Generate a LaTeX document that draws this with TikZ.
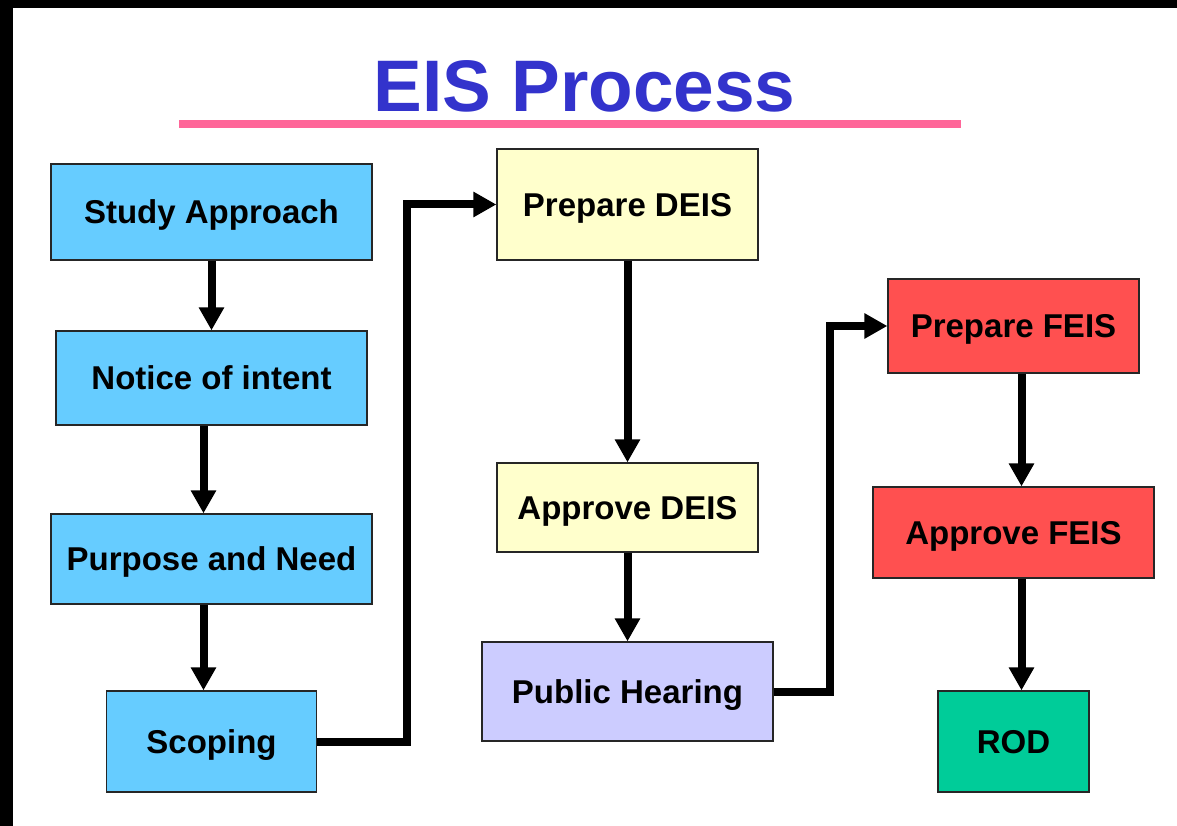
\documentclass[tikz,border=0pt]{standalone}
\usepackage{fontspec}
\setmainfont{Liberation Sans}
\usetikzlibrary{arrows.meta,positioning}

\definecolor{stageblue}{RGB}{102,204,255}
\definecolor{stageyellow}{RGB}{255,255,204}
\definecolor{stagelilac}{RGB}{204,204,255}
\definecolor{stagered}{RGB}{255,80,80}
\definecolor{stagegreen}{RGB}{0,204,153}
\definecolor{titleblue}{RGB}{51,51,204}
\definecolor{titlepink}{RGB}{255,102,153}

\tikzset{
  stage/.style={draw=black!85,line width=1.2pt,inner sep=0pt,text depth=0pt,
    font=\fontsize{33}{36}\selectfont\bfseries},
  flow/.style={line width=8pt,-{Triangle[length=23pt,width=24pt]}},
}

\begin{document}
\begin{tikzpicture}[x=1pt,y=-1pt]
\useasboundingbox (0,0) rectangle (1177,826);
\fill[black] (0,0) rectangle (1177,8);
\fill[black] (0,0) rectangle (13,826);

% title
\node[anchor=base,text=titleblue,font=\fontsize{73}{80}\selectfont\bfseries] (title) at (584.5,112) {EIS Process};
\fill[titlepink] (179,120) rectangle (961,128);

% first column
\node[stage,fill=stageblue,minimum width=321pt,minimum height=96pt] (study) at (211.5,212) {Study Approach};
\node[stage,fill=stageblue,minimum width=311pt,minimum height=94pt] (notice) at (211.5,378) {Notice of intent};
\node[stage,fill=stageblue,minimum width=321pt,minimum height=90pt] (purpose) at (211.5,559) {Purpose and Need};
\node[stage,fill=stageblue,minimum width=210pt,minimum height=101pt] (scoping) at (211.5,741.5) {Scoping};

% second column
\node[stage,fill=stageyellow,minimum width=261pt,minimum height=111pt] (pdeis) at (627.5,204.5) {Prepare DEIS};
\node[stage,fill=stageyellow,minimum width=261pt,minimum height=89pt] (adeis) at (627.5,507.5) {Approve DEIS};
\node[stage,fill=stagelilac,minimum width=291pt,minimum height=99pt] (hearing) at (627.5,691.5) {Public Hearing};

% third column
\node[stage,fill=stagered,minimum width=251pt,minimum height=94pt] (pfeis) at (1013.5,326) {Prepare FEIS};
\node[stage,fill=stagered,minimum width=281pt,minimum height=91pt] (afeis) at (1013.5,532.5) {Approve FEIS};
\node[stage,fill=stagegreen,minimum width=151pt,minimum height=101pt] (rod) at (1013.5,741.5) {ROD};

\coordinate (jogA) at (407,0);
\coordinate (jogB) at (830,0);

\draw[flow] (study.south) -- (notice.north);
\draw[flow] ([xshift=-8pt]notice.south) -- ([xshift=-8pt]purpose.north);
\draw[flow] ([xshift=-8pt]purpose.south) -- ([xshift=-8pt]scoping.north);
\draw[flow] (scoping.east) -| (jogA |- pdeis.west) -- (pdeis.west);
\draw[flow] (pdeis.south) -- (adeis.north);
\draw[flow] (adeis.south) -- (hearing.north);
\draw[flow] (hearing.east) -| (jogB |- pfeis.west) -- (pfeis.west);
\draw[flow] ([xshift=8pt]pfeis.south) -- ([xshift=8pt]afeis.north);
\draw[flow] ([xshift=8pt]afeis.south) -- ([xshift=8pt]rod.north);
\end{tikzpicture}
\end{document}
